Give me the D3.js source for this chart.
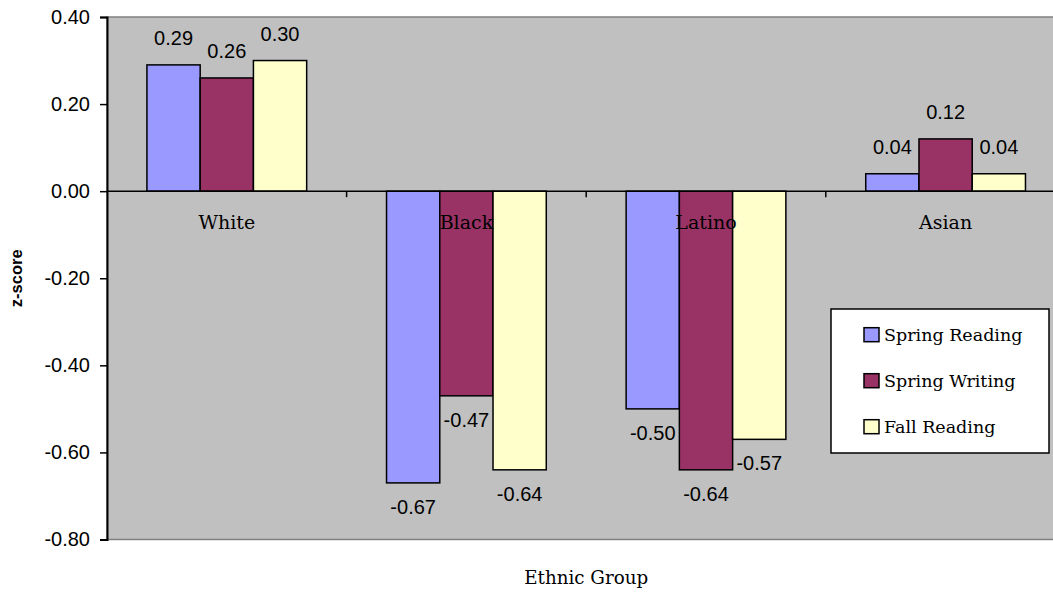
<!DOCTYPE html>
<html>
<head>
<meta charset="utf-8">
<script src="https://cdn.jsdelivr.net/npm/d3@7"></script>
<style>
  html, body { margin: 0; padding: 0; background: #fff; }
  svg { display: block; }
</style>
</head>
<body>
<svg id="chart" width="1053" height="595"></svg>
<script>
// Ethnic groups along the x axis
const categories = ["White", "Black", "Latino", "Asian"];
// Series shown in each group
const seriesNames = ["Spring Reading", "Spring Writing", "Fall Reading"];
const seriesColors = ["#9999FF", "#993366", "#FFFFCC"];
// Mean z-scores per group, one array per series
const springReading = [0.29, -0.67, -0.50, 0.04];
const springWriting = [0.26, -0.47, -0.64, 0.12];
const fallReading  = [0.30, -0.64, -0.57, 0.04];
// Y axis ticks
const yTicks = [0.40, 0.20, 0.00, -0.20, -0.40, -0.60, -0.80];

const seriesValues = [springReading, springWriting, fallReading];

const svg = d3.select("#chart");
const plot = { left: 107, right: 1065.4, top: 17, bottom: 539.5 };

const x = d3.scaleBand().domain(categories).range([plot.left, plot.right]).padding(0);
const inner = d3.scaleBand().domain(seriesNames)
  .range([x.bandwidth() / 6, x.bandwidth() * 5 / 6]).padding(0);
const y = d3.scaleLinear().domain([-0.8, 0.4]).range([plot.bottom, plot.top]);

// Two decimals with a plain hyphen for negatives
const fmt = v => d3.format(".2f")(v).replace("\u2212", "-");

const sans = "'Liberation Sans', Arial, sans-serif";
const serif = "'DejaVu Serif', serif";

// Plot background
svg.append("rect")
  .attr("x", plot.left).attr("y", plot.top)
  .attr("width", plot.right - plot.left).attr("height", plot.bottom - plot.top)
  .attr("fill", "#C0C0C0").attr("stroke", "#808080").attr("stroke-width", 1.5);

// Bars
const rows = [];
categories.forEach((c, ci) => {
  seriesNames.forEach((s, si) => rows.push({ c, s, si, v: seriesValues[si][ci] }));
});

svg.append("g").selectAll("rect").data(rows).join("rect")
  .attr("x", d => x(d.c) + inner(d.s))
  .attr("width", inner.bandwidth())
  .attr("y", d => y(Math.max(0, d.v)))
  .attr("height", d => Math.abs(y(d.v) - y(0)))
  .attr("fill", d => seriesColors[d.si])
  .attr("stroke", "#000").attr("stroke-width", 1.5);

// Zero line with category tick marks
svg.append("line")
  .attr("x1", plot.left).attr("x2", plot.right)
  .attr("y1", y(0)).attr("y2", y(0))
  .attr("stroke", "#000").attr("stroke-width", 1.5);
svg.append("g").selectAll("line").data(categories.slice(1)).join("line")
  .attr("x1", d => x(d)).attr("x2", d => x(d))
  .attr("y1", y(0)).attr("y2", y(0) + 6)
  .attr("stroke", "#000").attr("stroke-width", 1.5);

// Category labels just under the zero line
svg.append("g").selectAll("text").data(categories).join("text")
  .attr("x", d => x(d) + x.bandwidth() / 2)
  .attr("y", y(0) + 37.5)
  .attr("text-anchor", "middle")
  .attr("font-family", serif).attr("font-size", 19)
  .text(d => d);

// Value labels
svg.append("g").selectAll("text").data(rows).join("text")
  .attr("x", d => x(d.c) + inner(d.s) + inner.bandwidth() / 2)
  .attr("y", d => d.v >= 0 ? y(d.v) - 20 : y(d.v) + 31)
  .attr("text-anchor", "middle")
  .attr("font-family", sans).attr("font-size", 20)
  .text(d => fmt(d.v));

// Y axis
const yAxis = d3.axisLeft(y).tickValues(yTicks).tickFormat(fmt).tickSize(7).tickPadding(10);
const gy = svg.append("g").attr("transform", `translate(${plot.left},0)`).call(yAxis);
gy.select(".domain").attr("stroke", "#000").attr("stroke-width", 2);
gy.selectAll(".tick line").attr("stroke", "#000").attr("stroke-width", 1.5);
gy.selectAll(".tick text").attr("font-family", sans).attr("font-size", 20).attr("fill", "#000");

// Axis titles
svg.append("text")
  .attr("x", (plot.left + plot.right) / 2).attr("y", 584)
  .attr("text-anchor", "middle")
  .attr("font-family", serif).attr("font-size", 18.3)
  .text("Ethnic Group");
svg.append("text")
  .attr("transform", `translate(22,${(plot.top + plot.bottom) / 2}) rotate(-90)`)
  .attr("text-anchor", "middle")
  .attr("font-family", sans).attr("font-size", 16.5).attr("font-weight", "bold")
  .text("z-score");

// Legend
const legend = svg.append("g").attr("transform", "translate(831,309)");
legend.append("rect").attr("width", 218).attr("height", 144)
  .attr("fill", "#fff").attr("stroke", "#000").attr("stroke-width", 1.5);
const items = legend.selectAll("g").data(seriesNames).join("g")
  .attr("transform", (d, i) => `translate(33,${25.7 + i * 46})`);
items.append("rect").attr("x", 0).attr("y", -7).attr("width", 15).attr("height", 14)
  .attr("fill", (d, i) => seriesColors[i]).attr("stroke", "#000").attr("stroke-width", 1.5);
items.append("text").attr("x", 20).attr("y", 6)
  .attr("font-family", serif).attr("font-size", 17.5)
  .text(d => d);
</script>
</body>
</html>
